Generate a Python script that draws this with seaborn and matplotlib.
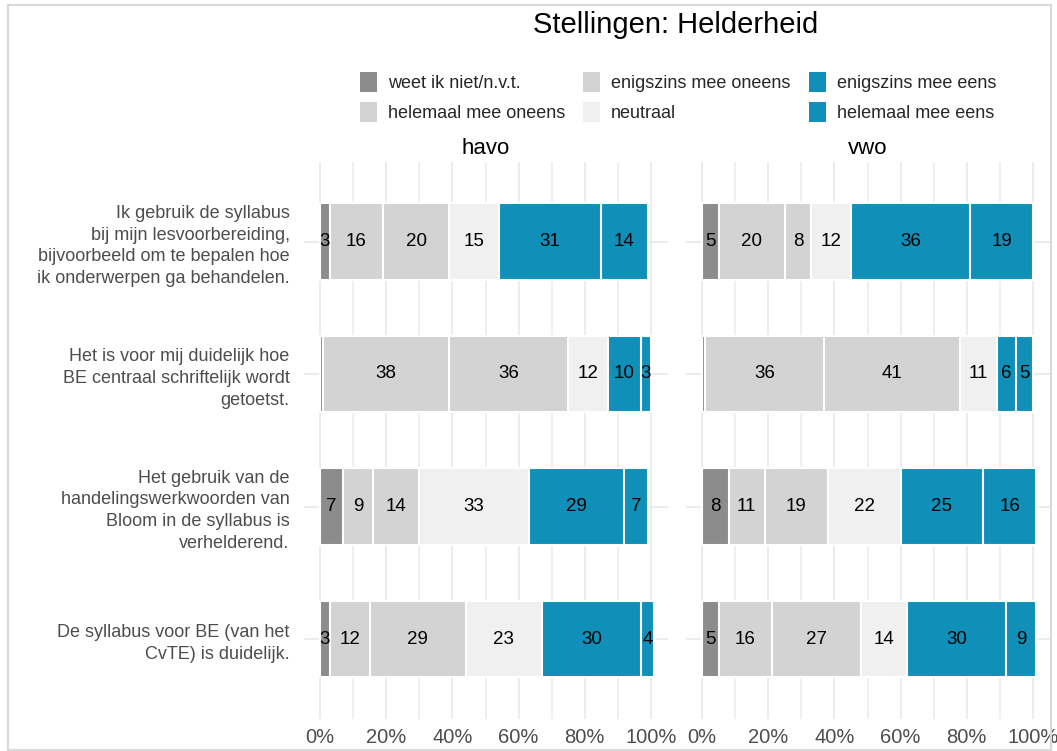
"""
Stellingen: Helderheid - gestapelde 100%-balken voor havo en vwo.
"""

import pandas as pd
import matplotlib
matplotlib.use("Agg")
import matplotlib.pyplot as plt
from matplotlib.patches import Patch, Rectangle
from matplotlib.ticker import MultipleLocator
import seaborn as sns

# ============================================================================
# DATA
# ============================================================================

STELLINGEN = [
    "Ik gebruik de syllabus\nbij mijn lesvoorbereiding,\nbijvoorbeeld om te bepalen hoe\nik onderwerpen ga behandelen.",
    "Het is voor mij duidelijk hoe\nBE centraal schriftelijk wordt\ngetoetst.",
    "Het gebruik van de\nhandelingswerkwoorden van\nBloom in de syllabus is\nverhelderend.",
    "De syllabus voor BE (van het\nCvTE) is duidelijk.",
]
NIVEAUS = ["havo", "vwo"]
CATEGORIEEN = [
    "weet ik niet/n.v.t.",
    "helemaal mee oneens",
    "enigszins mee oneens",
    "neutraal",
    "enigszins mee eens",
    "helemaal mee eens",
]
KLEUREN = ["#8c8c8c", "#d3d3d3", "#d3d3d3", "#f0f0f0", "#108fb8", "#108fb8"]

# percentages per categorie, in volgorde van STELLINGEN
HAVO_WEET_NIET = [3, 1, 7, 3]
HAVO_HELEMAAL_ONEENS = [16, 38, 9, 12]
HAVO_ENIGSZINS_ONEENS = [20, 36, 14, 29]
HAVO_NEUTRAAL = [15, 12, 33, 23]
HAVO_ENIGSZINS_EENS = [31, 10, 29, 30]
HAVO_HELEMAAL_EENS = [14, 3, 7, 4]

VWO_WEET_NIET = [5, 1, 8, 5]
VWO_HELEMAAL_ONEENS = [20, 36, 11, 16]
VWO_ENIGSZINS_ONEENS = [8, 41, 19, 27]
VWO_NEUTRAAL = [12, 11, 22, 14]
VWO_ENIGSZINS_EENS = [36, 6, 25, 30]
VWO_HELEMAAL_EENS = [19, 5, 16, 9]

X_TICKS = [0, 20, 40, 60, 80, 100]
X_TICK_LABELS = ["0%", "20%", "40%", "60%", "80%", "100%"]

# ============================================================================
# TABEL OPBOUWEN
# ============================================================================

series = {
    "havo": [HAVO_WEET_NIET, HAVO_HELEMAAL_ONEENS, HAVO_ENIGSZINS_ONEENS,
             HAVO_NEUTRAAL, HAVO_ENIGSZINS_EENS, HAVO_HELEMAAL_EENS],
    "vwo": [VWO_WEET_NIET, VWO_HELEMAAL_ONEENS, VWO_ENIGSZINS_ONEENS,
            VWO_NEUTRAAL, VWO_ENIGSZINS_EENS, VWO_HELEMAAL_EENS],
}

rows = []
for niveau in NIVEAUS:
    for cat, waarden in zip(CATEGORIEEN, series[niveau]):
        for stelling, w in zip(STELLINGEN, waarden):
            rows.append({"niveau": niveau, "stelling": stelling,
                         "categorie": cat, "waarde": w})
df = pd.DataFrame(rows)
df["categorie"] = pd.Categorical(df["categorie"], CATEGORIEEN, ordered=True)
df = df.sort_values(["niveau", "stelling", "categorie"])
df["cum"] = df.groupby(["niveau", "stelling"])["waarde"].cumsum()
df["mid"] = df["cum"] - df["waarde"] / 2

# ============================================================================
# PLOT
# ============================================================================

sns.set_theme(style="whitegrid")
plt.rcParams["font.family"] = ["Liberation Sans", "DejaVu Sans"]

W, H = 1057, 751
fig = plt.figure(figsize=(W / 100, H / 100), dpi=100)
fig.patch.set_facecolor("white")

ax_bottom = 1 - 718.5 / H
ax_height = (718.5 - 162) / H
lefts = [303.5 / W, 685.5 / W]
ax_width = 364 / W

for i, niveau in enumerate(NIVEAUS):
    ax = fig.add_axes([lefts[i], ax_bottom, ax_width, ax_height])
    d = df[df["niveau"] == niveau]

    # cumulatieve lagen van achter naar voren
    for cat, kleur in zip(reversed(CATEGORIEEN), reversed(KLEUREN)):
        sub = d[d["categorie"] == cat]
        sns.barplot(data=sub, x="cum", y="stelling", order=STELLINGEN,
                    color=kleur, saturation=1, width=0.58, errorbar=None,
                    edgecolor="white", linewidth=1.5, ax=ax)

    pos = {s: k for k, s in enumerate(STELLINGEN)}
    for _, r in d.iterrows():
        if r["waarde"] >= 2:
            ax.text(r["mid"], pos[r["stelling"]], str(r["waarde"]),
                    ha="center", va="center", fontsize=13.5, color="black")

    ax.set_xlim(-5, 105)
    ax.set_ylim(3.6, -0.6)
    ax.set_xticks(X_TICKS)
    ax.set_xticklabels(X_TICK_LABELS)
    ax.xaxis.set_minor_locator(MultipleLocator(10))
    ax.set_xlabel("")
    ax.set_ylabel("")
    ax.set_axisbelow(True)
    ax.grid(False)
    ax.xaxis.grid(True, which="major", color="#ebebeb", linewidth=1.3)
    ax.xaxis.grid(True, which="minor", color="#ebebeb", linewidth=1.1)
    ax.yaxis.grid(True, which="major", color="#ebebeb", linewidth=1.3)
    for sp in ax.spines.values():
        sp.set_visible(False)
    ax.tick_params(axis="both", which="both", length=0, colors="#4d4d4d",
                   labelsize=14.5)
    ax.tick_params(axis="x", pad=7)
    ax.tick_params(axis="y", pad=10)
    if i == 0:
        for lab in ax.get_yticklabels():
            lab.set_linespacing(1.38)
            lab.set_fontsize(13)
    else:
        ax.set_yticklabels([])
    ax.set_title(niveau, fontsize=16, pad=6, color="black")

fig.text(676 / W, 1 - 25 / H, "Stellingen: Helderheid", ha="center",
         va="center", fontsize=21, color="black")

handles = [Patch(facecolor=k, edgecolor="none") for k in KLEUREN]
fig.legend(handles, CATEGORIEEN, ncol=3, loc="center",
           bbox_to_anchor=(678 / W, 1 - 97 / H), frameon=False, fontsize=13,
           handlelength=0.95, handleheight=1.33, labelspacing=0.55,
           handletextpad=0.6, columnspacing=1.0)

fig.patches.append(Rectangle((8 / W, 1 / H), (1051 - 8) / W, (745) / H,
                             transform=fig.transFigure, fill=False,
                             edgecolor="#d9d9d9", linewidth=1.5))

fig.savefig("out.png", dpi=100)
